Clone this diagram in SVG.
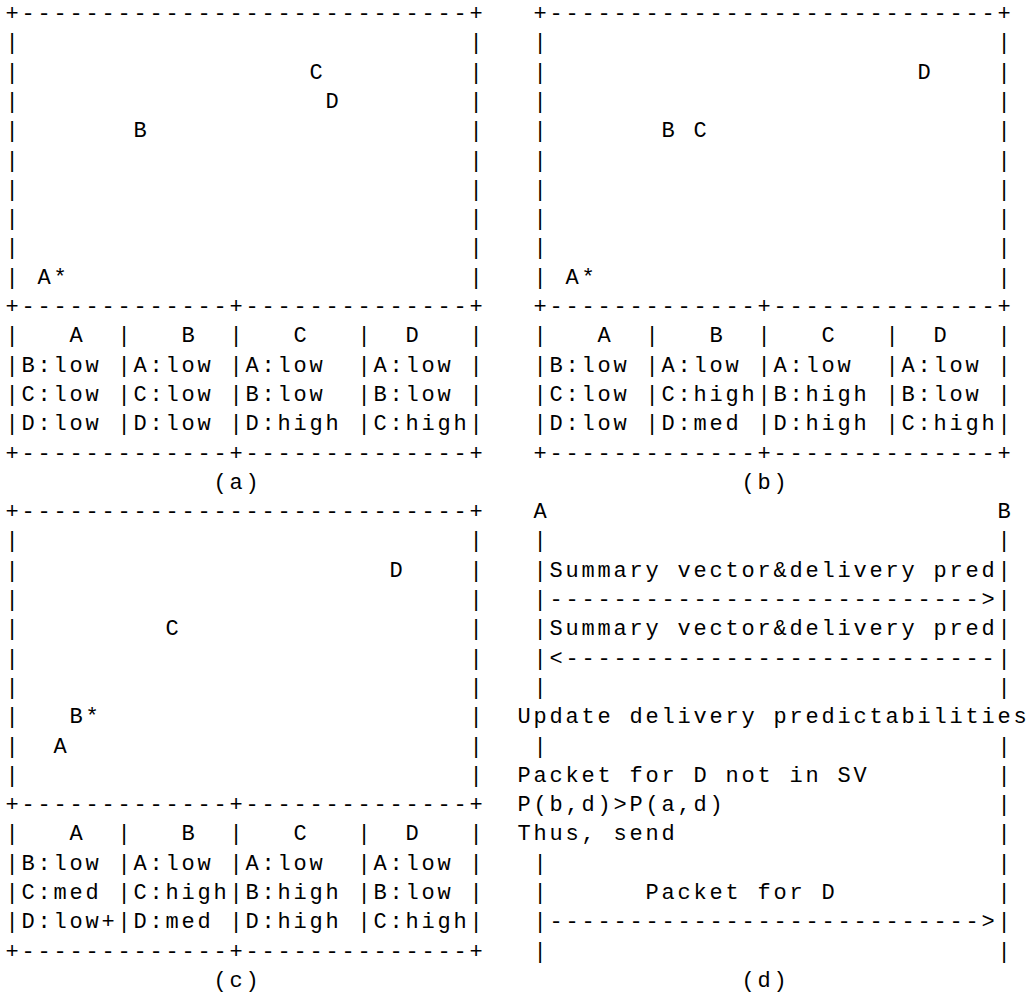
<svg xmlns="http://www.w3.org/2000/svg" width="1030" height="996" viewBox="0 0 1030 996" xml:space="preserve">
<style>
text{font-family:"Liberation Mono","DejaVu Sans Mono",monospace;font-size:22px;letter-spacing:2.8px;fill:#000;white-space:pre}
</style>
<rect x="0" y="0" width="1030" height="996" fill="#fff"/>
<g id="panel-a">
<text x="5.4" y="20">+----------------------------+</text>
<text x="5.4" y="49.3">|                            |</text>
<text x="5.4" y="78.6">|                  C         |</text>
<text x="5.4" y="107.9">|                   D        |</text>
<text x="5.4" y="137.2">|       B                    |</text>
<text x="5.4" y="166.5">|                            |</text>
<text x="5.4" y="195.8">|                            |</text>
<text x="5.4" y="225.1">|                            |</text>
<text x="5.4" y="254.4">|                            |</text>
<text x="5.4" y="283.7">| A*                         |</text>
<text x="5.4" y="313">+-------------+--------------+</text>
<text x="5.4" y="342.3">|   A  |   B  |   C   |  D   |</text>
<text x="5.4" y="371.6">|B:low |A:low |A:low  |A:low |</text>
<text x="5.4" y="400.9">|C:low |C:low |B:low  |B:low |</text>
<text x="5.4" y="430.2">|D:low |D:low |D:high |C:high|</text>
<text x="5.4" y="459.5">+-------------+--------------+</text>
<text x="213.4" y="488.8">(a)</text>
</g>
<g id="panel-b">
<text x="533.4" y="20">+----------------------------+</text>
<text x="533.4" y="49.3">|                            |</text>
<text x="533.4" y="78.6">|                       D    |</text>
<text x="533.4" y="107.9">|                            |</text>
<text x="533.4" y="137.2">|       B C                  |</text>
<text x="533.4" y="166.5">|                            |</text>
<text x="533.4" y="195.8">|                            |</text>
<text x="533.4" y="225.1">|                            |</text>
<text x="533.4" y="254.4">|                            |</text>
<text x="533.4" y="283.7">| A*                         |</text>
<text x="533.4" y="313">+-------------+--------------+</text>
<text x="533.4" y="342.3">|   A  |   B  |   C   |  D   |</text>
<text x="533.4" y="371.6">|B:low |A:low |A:low  |A:low |</text>
<text x="533.4" y="400.9">|C:low |C:high|B:high |B:low |</text>
<text x="533.4" y="430.2">|D:low |D:med |D:high |C:high|</text>
<text x="533.4" y="459.5">+-------------+--------------+</text>
<text x="741.4" y="488.8">(b)</text>
</g>
<g id="panel-c">
<text x="5.4" y="518.1">+----------------------------+</text>
<text x="5.4" y="547.4">|                            |</text>
<text x="5.4" y="576.7">|                       D    |</text>
<text x="5.4" y="606">|                            |</text>
<text x="5.4" y="635.3">|         C                  |</text>
<text x="5.4" y="664.6">|                            |</text>
<text x="5.4" y="693.9">|                            |</text>
<text x="5.4" y="723.2">|   B*                       |</text>
<text x="5.4" y="752.5">|  A                         |</text>
<text x="5.4" y="781.8">|                            |</text>
<text x="5.4" y="811.1">+-------------+--------------+</text>
<text x="5.4" y="840.4">|   A  |   B  |   C   |  D   |</text>
<text x="5.4" y="869.7">|B:low |A:low |A:low  |A:low |</text>
<text x="5.4" y="899">|C:med |C:high|B:high |B:low |</text>
<text x="5.4" y="928.3">|D:low+|D:med |D:high |C:high|</text>
<text x="5.4" y="957.6">+-------------+--------------+</text>
<text x="213.4" y="986.9">(c)</text>
</g>
<g id="panel-d">
<g id="node-A"><text x="533.4" y="518.1">A</text></g>
<g id="node-B"><text x="997.4" y="518.1">B</text></g>
<g id="lifeline-A">
<text x="533.4" y="547.4">|</text>
<text x="533.4" y="576.7">|</text>
<text x="533.4" y="606">|</text>
<text x="533.4" y="635.3">|</text>
<text x="533.4" y="664.6">|</text>
<text x="533.4" y="693.9">|</text>
<text x="533.4" y="752.5">|</text>
<text x="533.4" y="869.7">|</text>
<text x="533.4" y="899">|</text>
<text x="533.4" y="928.3">|</text>
<text x="533.4" y="957.6">|</text>
</g>
<g id="lifeline-B">
<text x="997.4" y="547.4">|</text>
<text x="997.4" y="576.7">|</text>
<text x="997.4" y="606">|</text>
<text x="997.4" y="635.3">|</text>
<text x="997.4" y="664.6">|</text>
<text x="997.4" y="693.9">|</text>
<text x="997.4" y="752.5">|</text>
<text x="997.4" y="781.8">|</text>
<text x="997.4" y="811.1">|</text>
<text x="997.4" y="840.4">|</text>
<text x="997.4" y="869.7">|</text>
<text x="997.4" y="899">|</text>
<text x="997.4" y="928.3">|</text>
<text x="997.4" y="957.6">|</text>
</g>
<g id="connectors">
<text x="549.4" y="606">---------------------------&gt;</text>
<text x="549.4" y="664.6">&lt;---------------------------</text>
<text x="549.4" y="928.3">---------------------------&gt;</text>
</g>
<g id="notes">
<text x="549.4" y="576.7">Summary vector&amp;delivery pred</text>
<text x="549.4" y="635.3">Summary vector&amp;delivery pred</text>
<text x="517.4" y="723.2">Update delivery predictabilities</text>
<text x="517.4" y="781.8">Packet for D not in SV</text>
<text x="517.4" y="811.1">P(b,d)&gt;P(a,d)</text>
<text x="517.4" y="840.4">Thus, send</text>
<text x="645.4" y="899">Packet for D</text>
</g>
<text x="741.4" y="986.9">(d)</text>
</g>
</svg>
